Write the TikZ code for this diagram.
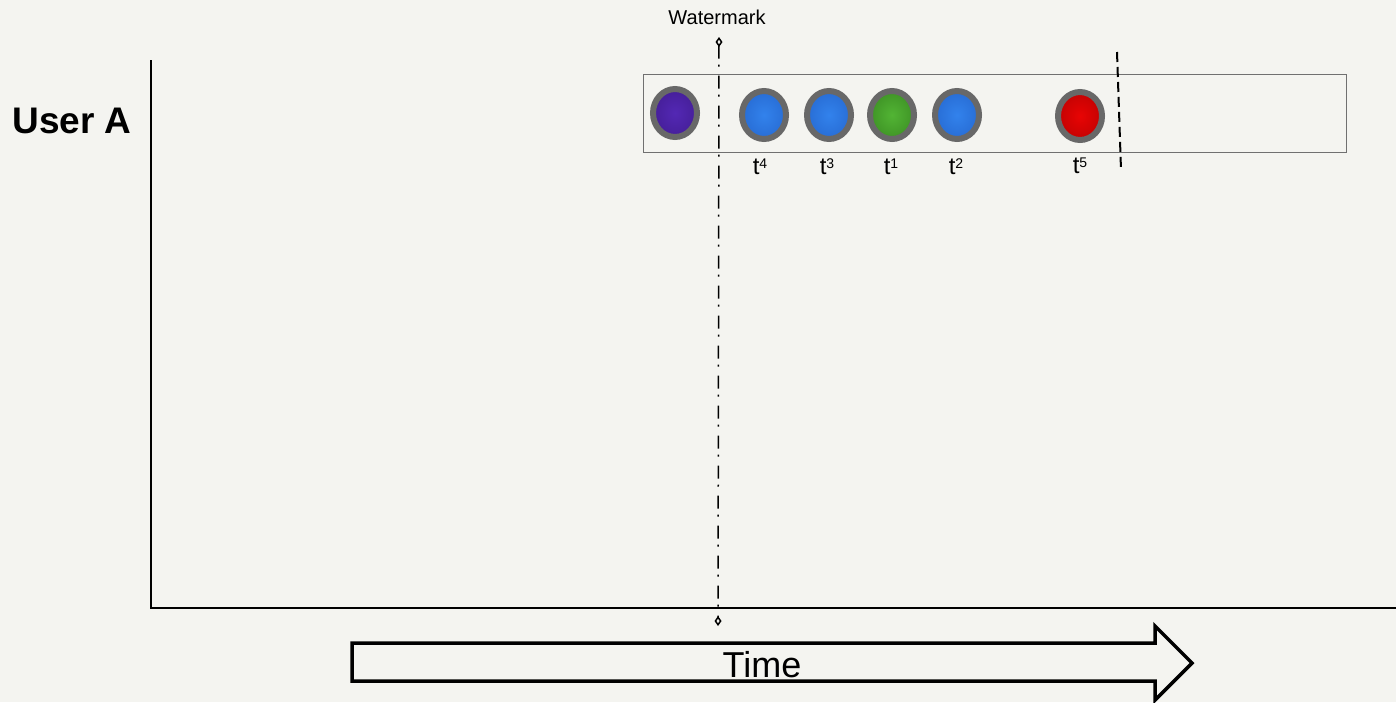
\documentclass[tikz,border=0pt]{standalone}
\usepackage{fontspec}
\setmainfont{Liberation Sans}
\usetikzlibrary{shapes.geometric,arrows.meta}
\definecolor{bg}{HTML}{F4F4F0}
\definecolor{ring}{HTML}{686868}
\definecolor{boxgray}{HTML}{707070}
\definecolor{pIn}{HTML}{5328B4}\definecolor{pOut}{HTML}{38157E}
\definecolor{bIn}{HTML}{3282EC}\definecolor{bOut}{HTML}{1E58BE}
\definecolor{gIn}{HTML}{52B434}\definecolor{gOut}{HTML}{2C7418}
\definecolor{rIn}{HTML}{E80404}\definecolor{rOut}{HTML}{A00000}
\pgfdeclareradialshading{ballP}{\pgfpoint{0bp}{0bp}}{color(0bp)=(pIn); color(50bp)=(pOut)}
\pgfdeclareradialshading{ballB}{\pgfpoint{0bp}{0bp}}{color(0bp)=(bIn); color(50bp)=(bOut)}
\pgfdeclareradialshading{ballG}{\pgfpoint{0bp}{0bp}}{color(0bp)=(gIn); color(50bp)=(gOut)}
\pgfdeclareradialshading{ballR}{\pgfpoint{0bp}{0bp}}{color(0bp)=(rIn); color(50bp)=(rOut)}
\newcommand{\tsup}[1]{t\raisebox{6pt}{\fontsize{14}{14}\selectfont #1}}
\tikzset{
  ball/.style={ellipse, draw=ring, line width=6pt, minimum width=44pt, minimum height=48pt, inner sep=0pt},
  tlabel/.style={anchor=base, inner sep=0pt, font=\fontsize{24}{26}\selectfont},
  axisline/.style={line width=1.6pt, black},
  wmline/.style={line width=1.5pt, dash pattern=on 13pt off 6pt on 2pt off 9pt, {Diamond[open,length=10pt,width=7pt]}-{Diamond[open,length=10pt,width=7pt]}},
  cutline/.style={line width=2pt, dash pattern=on 10pt off 5pt},
  timearrow/.style={line width=3.5pt, line join=miter}
}
\begin{document}
\begin{tikzpicture}[x=1pt,y=-1pt]
\fill[bg] (0,0) rectangle (1396,702);
\useasboundingbox (0,0) rectangle (1396,702);
% axes
\coordinate (axTop) at (151,60);
\coordinate (axCorner) at (151,608);
\coordinate (axRight) at (1396,608);
\draw[axisline] (axTop) -- (axCorner) -- (axRight);
\node[anchor=base, inner sep=0pt, font=\fontsize{37}{40}\selectfont\bfseries] (user) at (72,133) {User A};
% stream box
\node[draw=boxgray, line width=1.6pt, minimum width=703pt, minimum height=78pt, inner sep=0pt] (box) at (995,113.5) {};
% balls
\node[ball, shading=ballP] (bp) at (675,113) {};
\node[ball, shading=ballB] (b4) at (764,115) {};
\node[ball, shading=ballB] (b3) at (829,115) {};
\node[ball, shading=ballG] (b1) at (892,115) {};
\node[ball, shading=ballB] (b2) at (957,115) {};
\node[ball, shading=ballR] (b5) at (1080,116) {};
% labels
\node[tlabel] (l4) at (760,174) {\tsup{4}};
\node[tlabel] (l3) at (827,174) {\tsup{3}};
\node[tlabel] (l1) at (891,174) {\tsup{1}};
\node[tlabel] (l2) at (956,174) {\tsup{2}};
\node[tlabel] (l5) at (1080,173) {\tsup{5}};
% watermark
\node[anchor=base, inner sep=0pt, font=\fontsize{20}{24}\selectfont] (wm) at (717,24) {Watermark};
\coordinate (wmTop) at (719,37);
\coordinate (wmBot) at (718,626);
\draw[wmline] (wmTop) -- (wmBot);
% cut line
\coordinate (cutTop) at (1117,52);
\coordinate (cutBot) at (1121,170);
\draw[cutline] (cutTop) -- (cutBot);
% time arrow
\draw[timearrow] (352,643) -- (1155,643) -- (1155,626) -- (1192,663) -- (1155,700) -- (1155,681) -- (352,681) -- cycle;
\node[anchor=base, inner sep=0pt, font=\fontsize{36}{40}\selectfont] (time) at (762,677) {Time};
\end{tikzpicture}
\end{document}
